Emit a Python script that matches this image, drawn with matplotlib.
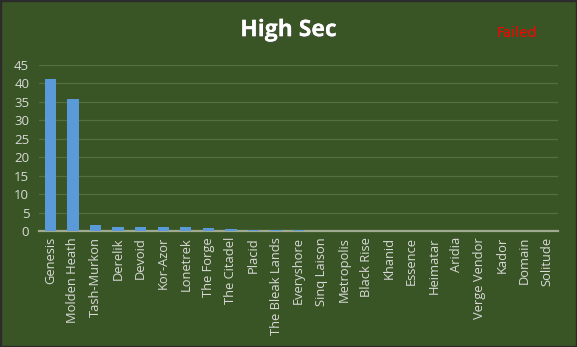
import matplotlib
matplotlib.use("Agg")
import matplotlib.pyplot as plt
import matplotlib.patheffects as pe

categories = ["Genesis", "Molden Heath", "Tash-Murkon", "Derelik", "Devoid", "Kor-Azor",
              "Lonetrek", "The Forge", "The Citadel", "Placid", "The Bleak Lands", "Everyshore",
              "Sinq Laison", "Metropolis", "Black Rise", "Khanid", "Essence", "Heimatar",
              "Aridia", "Verge Vendor", "Kador", "Domain", "Solitude"]
values = [41.2, 35.6, 1.7, 1.2, 1.2, 1.2, 1.2, 0.9, 0.6, 0.35, 0.35, 0.4,
          0.2, 0.2, 0.2, 0.2, 0.2, 0.2, 0.2, 0.2, 0.2, 0.2, 0.2]
yticks = list(range(0, 50, 5))

bg = "#3A5525"
txt = "#D9D9D9"

fig = plt.figure(figsize=(5.77, 3.47), dpi=100, facecolor=bg)
fig.patches.append(plt.Rectangle((0, 0), 1, 1, transform=fig.transFigure,
                                 fill=False, edgecolor="#2B2B2B", linewidth=2.5))
ax = fig.add_axes([0.0676, 0.333, 0.9, 0.481])
ax.set_facecolor(bg)
x = range(len(categories))
ax.bar(x, values, width=0.5, color="#5A9AD8", zorder=5)
ax.set_xlim(-0.5, len(categories) - 0.5)
ax.set_ylim(0, 45)
ax.set_yticks(yticks)
ax.set_yticklabels([str(t) for t in yticks], color=txt, fontsize=9.5, family="Open Sans")
ax.set_xticks(list(x))
ax.set_xticklabels(categories, rotation=90, color=txt, fontsize=9.3, family="Open Sans")
ax.tick_params(length=0, pad=4)
ax.tick_params(axis="y", pad=7)
ax.grid(axis="y", color="#566E42", linewidth=0.9, zorder=0)
ax.set_axisbelow(True)
for s in ["top", "right", "left"]:
    ax.spines[s].set_visible(False)
ax.spines["bottom"].set_color("#A0AA90")
ax.spines["bottom"].set_linewidth(1.6)
ax.spines["bottom"].set_zorder(2)

fig.text(0.5, 0.913, "High Sec", ha="center", va="center", color="white",
         fontsize=16.5, fontweight="bold", family="Open Sans",
         path_effects=[pe.withSimplePatchShadow(offset=(1, -1), alpha=0.5), pe.Normal()])
fig.text(0.896, 0.906, "Failed", ha="center", va="center", color="#FF0000",
         fontsize=10, family="DejaVu Sans", zorder=10)

fig.savefig("out.png", dpi=100, facecolor=bg)
